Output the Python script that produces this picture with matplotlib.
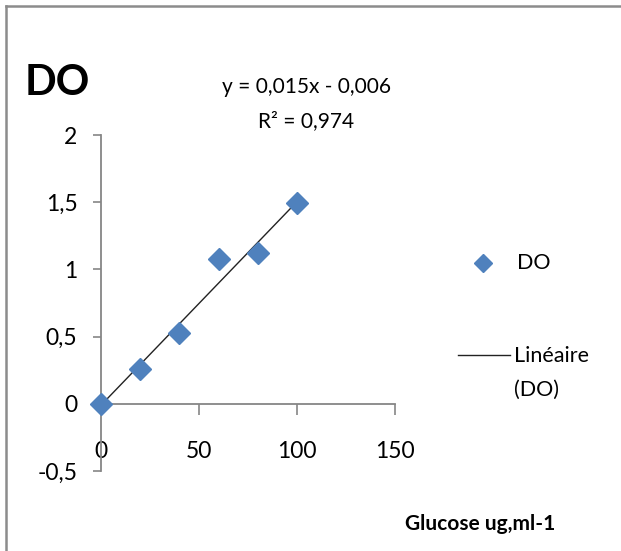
# -*- coding: utf-8 -*-
"""Glucose calibration curve (DO vs concentration)."""
import numpy as np
import matplotlib.pyplot as plt
from matplotlib.lines import Line2D

plt.rcParams['font.family'] = ['Lato', 'DejaVu Sans']

glucose = [0, 20, 40, 60, 80, 100]
do_vals = [0.0, 0.26, 0.53, 1.075, 1.12, 1.495]
x_ticks = [0, 50, 100, 150]
y_ticks = [-0.5, 0, 0.5, 1, 1.5, 2]
y_labels = ['-0,5', '0', '0,5', '1', '1,5', '2']
eq_text = "y = 0,015x - 0,006"
r2_text = "R² = 0,974"

blue = '#4F81BD'
axis_grey = '#868686'

fig = plt.figure(figsize=(6.21, 5.51), dpi=100)
fig.set_facecolor("white")
ax = fig.add_axes([101 / 621, 1 - 471 / 551, 294 / 621, 336 / 551])

# linear trend line
slope, inter = np.polyfit(glucose, do_vals, 1)
xl = np.array([glucose[0], glucose[-1]])
ax.plot(xl, slope * xl + inter, color='#222222', lw=1.0, zorder=2)
ax.plot(glucose, do_vals, 'D', color=blue, ms=11.5, mec=blue, zorder=3,
        clip_on=False)

ax.set_xlim(0, 150)
ax.set_ylim(-0.5, 2)
for s in ['top', 'right']:
    ax.spines[s].set_visible(False)
ax.spines['bottom'].set_position(('data', 0))
ax.spines['left'].set_color(axis_grey)
ax.spines['bottom'].set_color(axis_grey)
ax.spines['left'].set_linewidth(1.3)
ax.spines['bottom'].set_linewidth(1.3)

ax.set_xticks(x_ticks)
ax.set_xticklabels([str(t) for t in x_ticks])
ax.set_yticks(y_ticks)
ax.set_yticklabels(y_labels)
ax.tick_params(axis='x', direction='out', length=8, width=1.2, color=axis_grey,
               pad=19, labelsize=16.5)
ax.tick_params(axis='y', direction='out', length=6, width=1.2, color=axis_grey,
               pad=11, labelsize=16.5)

fig.text(25 / 621, 1 - 83 / 551, "DO", fontsize=30, fontweight='bold',
         va='center', ha='left')
fig.text(306 / 621, 1 - 87 / 551, eq_text, fontsize=15, ha='center', va='center')
fig.text(306 / 621, 1 - 121 / 551, r2_text, fontsize=15, ha='center', va='center')
fig.text(480 / 621, 1 - 524 / 551, "Glucose ug,ml-1", fontsize=15,
         fontweight='bold', ha='center', va='center')

# legend drawn by hand, as in the Excel chart
fig.add_artist(Line2D([483 / 621], [1 - 263 / 551], marker='D', color=blue,
                      ms=9, ls='none'))
fig.text(517 / 621, 1 - 263 / 551, "DO", fontsize=15.5, va='center', ha='left')
fig.add_artist(Line2D([458 / 621, 510 / 621], [1 - 355 / 551, 1 - 355 / 551],
                      color='#222222', lw=1.0))
fig.text(514 / 621, 1 - 356 / 551, "Linéaire", fontsize=15.5, va='center', ha='left')
fig.text(514 / 621, 1 - 390 / 551, "(DO)", fontsize=15.5, va='center', ha='left')

# outer frame (only top and left visible)
fig.add_artist(Line2D([6 / 621, 1], [1 - 6 / 551, 1 - 6 / 551], color='#8c8c8c', lw=1.8))
fig.add_artist(Line2D([6 / 621, 6 / 621], [0, 1 - 6 / 551], color='#8c8c8c', lw=1.8))

plt.savefig("out.png", dpi=100)
